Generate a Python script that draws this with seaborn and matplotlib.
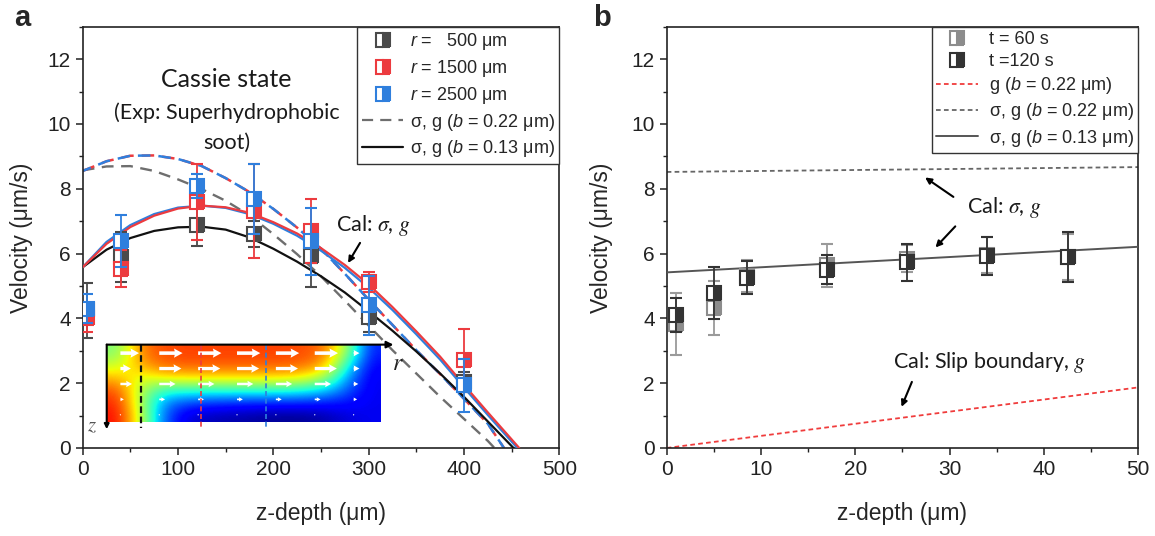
import numpy as np
import matplotlib
matplotlib.use("Agg")
import matplotlib.pyplot as plt
from matplotlib.lines import Line2D
from matplotlib.ticker import MultipleLocator
import seaborn as sns

# ---------------- panel a: velocity profiles in the Cassie state ----------------
z_exp = [5, 40, 120, 180, 240, 300, 400]
v_r500 = [4.25, 5.89, 6.88, 6.60, 5.92, 4.04, 2.04]
e_r500 = [0.85, 0.77, 0.65, 0.40, 0.96, 0.45, 0.30]
v_r1500 = [4.00, 5.53, 7.58, 7.32, 6.70, 5.12, 2.71]
e_r1500 = [0.42, 0.57, 1.17, 1.46, 0.98, 0.30, 0.97]
v_r2500 = [4.30, 6.38, 8.09, 7.68, 6.38, 4.40, 1.94]
e_r2500 = [0.45, 0.80, 0.37, 1.08, 1.03, 0.92, 0.82]

z_cal = [0, 25, 50, 75, 100, 125, 150, 175, 200, 225, 250, 275, 300,
         325, 350, 375, 400, 425]
# sigma, g with b = 0.13 um
cal_r500 = [5.58, 6.12, 6.48, 6.70, 6.81, 6.83, 6.74, 6.50, 6.15, 5.75, 5.30,
            4.80, 4.22, 3.62, 2.98, 2.30, 1.58, 0.82]
cal_r1500 = [5.58, 6.30, 6.82, 7.17, 7.39, 7.48, 7.43, 7.26, 6.97, 6.62, 6.17,
             5.65, 5.05, 4.35, 3.60, 2.82, 1.95, 1.10]
cal_r2500 = [5.58, 6.36, 6.88, 7.22, 7.42, 7.48, 7.41, 7.22, 6.92, 6.55, 6.09,
             5.56, 4.95, 4.26, 3.51, 2.73, 1.87, 1.02]
end_z013 = [452, 458, 456]
# sigma, g with b = 0.22 um
cal22_r500 = [8.57, 8.69, 8.70, 8.55, 8.29, 7.99, 7.63, 7.18, 6.60, 5.98, 5.30,
              4.55, 3.78, 3.02, 2.30, 1.58, 0.90, 0.22]
cal22_r1500 = [8.55, 8.85, 9.02, 9.03, 8.92, 8.70, 8.33, 7.90, 7.38, 6.80, 6.15,
               5.38, 4.58, 3.80, 3.02, 2.28, 1.52, 0.75]
end_z022 = [432, 442]

# inset: normalised flow speed map (rows top->bottom) and arrow magnitudes
field_speed = np.array([
    [0.50, 0.78, 0.83, 0.84, 0.84, 0.84, 0.84, 0.84, 0.83, 0.80, 0.55, 0.15],
    [0.58, 0.74, 0.81, 0.82, 0.82, 0.82, 0.82, 0.82, 0.81, 0.75, 0.42, 0.12],
    [0.70, 0.62, 0.68, 0.69, 0.69, 0.69, 0.69, 0.69, 0.67, 0.58, 0.30, 0.10],
    [0.82, 0.55, 0.42, 0.42, 0.42, 0.42, 0.42, 0.42, 0.40, 0.35, 0.22, 0.10],
    [0.87, 0.55, 0.26, 0.20, 0.18, 0.17, 0.16, 0.16, 0.16, 0.15, 0.14, 0.10],
    [0.90, 0.58, 0.22, 0.08, 0.05, 0.04, 0.03, 0.02, 0.02, 0.04, 0.08, 0.10],
])
arrow_speed = np.array([
    [0.80, 1.00, 1.00, 1.00, 1.00, 1.00, 0.25],
    [0.45, 0.95, 0.95, 0.95, 0.95, 0.95, 0.25],
    [0.50, 0.70, 0.70, 0.70, 0.70, 0.70, 0.20],
    [0.15, 0.25, 0.25, 0.25, 0.25, 0.25, 0.15],
    [0.05, 0.05, 0.05, 0.05, 0.05, 0.05, 0.05],
])
probe_r = [60.8, 124.4, 192.6]   # z-depth axis positions of the r-probe lines

# ---------------- panel b: near-wall velocity over time ----------------
z_b = [1, 5, 8.5, 17, 25.5, 34, 42.5]
v_t60 = [3.82, 4.32, 5.30, 5.64, 5.84, 5.95, 5.90]
e_t60 = [0.95, 0.82, 0.50, 0.66, 0.42, 0.55, 0.70]
v_t120 = [4.10, 4.78, 5.25, 5.50, 5.73, 5.93, 5.89]
e_t120 = [0.52, 0.80, 0.51, 0.45, 0.58, 0.58, 0.77]
z_line = [0, 50]
slip_g = [0.0, 1.87]
sig_g_022 = [8.52, 8.67]
sig_g_013 = [5.42, 6.21]

# ---------------- style ----------------
sns.set_theme(style="ticks")
plt.rcParams.update({
    "font.family": ["Liberation Sans", "DejaVu Sans"],
    "mathtext.fontset": "custom",
    "mathtext.rm": "Liberation Sans",
    "mathtext.it": "Liberation Sans:italic",
    "mathtext.bf": "Liberation Sans:bold",
    "axes.linewidth": 1.2,
    "axes.edgecolor": "#222222",
    "xtick.direction": "out",
    "ytick.direction": "out",
    "xtick.major.size": 5, "ytick.major.size": 5,
    "xtick.minor.size": 3, "ytick.minor.size": 3,
    "xtick.major.width": 1.1, "ytick.major.width": 1.1,
    "xtick.minor.width": 1.0, "ytick.minor.width": 1.0,
    "xtick.color": "#222222", "ytick.color": "#222222",
    "xtick.labelsize": 15, "ytick.labelsize": 15,
})

C_DARK = "#4a4a4a"
C_RED = "#ec3b3f"
C_BLUE = "#2f7fdd"
C_GRAY = "#6e6e6e"
NOTE_FONT = ["Lato", "DejaVu Sans"]

fig = plt.figure(figsize=(11.55, 5.36), dpi=100)
ax_a = fig.add_axes([0.0716, 0.1642, 0.4126, 0.7858])
ax_b = fig.add_axes([0.5772, 0.1642, 0.4083, 0.7858])


def curve(ax, x, y, color, ls="-", lw=1.6, z=3):
    sns.lineplot(x=x, y=y, ax=ax, color=color, linestyle=ls, linewidth=lw,
                 estimator=None, sort=False, zorder=z)


def points(ax, x, y, err, color, ecolor, z):
    ax.errorbar(x, y, yerr=err, fmt="s", ms=9.5, mew=1.5, color=color,
                mec=color, mfc=color, mfcalt="white", fillstyle="right",
                ecolor=ecolor, elinewidth=1.3, capsize=4.5, capthick=1.3,
                zorder=z)


# ---- panel a curves ----
dash_long = (0, (5, 3.2))
curve(ax_a, z_cal + [end_z022[0]], cal22_r500 + [0], C_GRAY, dash_long, 1.7, 2)
curve(ax_a, z_cal + [end_z022[1]], cal22_r1500 + [0], C_RED, dash_long, 1.8, 2)
curve(ax_a, z_cal + [end_z022[1]], cal22_r1500 + [0], C_BLUE, (1.5, (5, 3.2)), 1.8, 2)
curve(ax_a, z_cal + [end_z013[0]], cal_r500 + [0], "#111111", "-", 1.6, 3)
curve(ax_a, z_cal + [end_z013[2]], cal_r2500 + [0], C_BLUE, "-", 1.6, 3)
curve(ax_a, z_cal + [end_z013[1]], cal_r1500 + [0], C_RED, "-", 1.6, 3)

points(ax_a, z_exp, v_r500, e_r500, C_DARK, C_DARK, 5)
points(ax_a, z_exp, v_r1500, e_r1500, C_RED, C_RED, 6)
points(ax_a, z_exp, v_r2500, e_r2500, C_BLUE, C_BLUE, 7)

# ---- panel a inset: flow field in the channel ----
x0, x1, y0, y1 = 25.2, 312.4, 0.81, 3.19
ins = ax_a.inset_axes([x0, y0, x1 - x0, y1 - y0], transform=ax_a.transData,
                      zorder=4)
ins.imshow(field_speed, cmap="jet", vmin=0, vmax=1, aspect="auto",
           interpolation="bicubic", extent=[0, 1, 0, 1], origin="upper")
n_rows, n_cols = arrow_speed.shape
ax_pos = 0.05 + 0.142 * np.arange(n_cols)
ay_pos = 0.89 - 0.20 * np.arange(n_rows)
shaft = [0.013, 0.012, 0.009, 0.006, 0.005]
for j in range(n_rows):
    ins.quiver(ax_pos, np.full(n_cols, ay_pos[j]), arrow_speed[j] * 0.085,
               np.zeros(n_cols), color="white", angles="xy",
               scale_units="xy", scale=1, width=shaft[j], headwidth=2.6,
               headlength=2.4, headaxislength=2.2, pivot="tail", zorder=3)
ins.set_xlim(0, 1)
ins.set_ylim(0, 1)
ins.set_axis_off()

for xr, cr in zip(probe_r, ["#111111", C_RED, C_BLUE]):
    ax_a.plot([xr, xr], [y1, 0.61], color=cr, lw=1.6 if cr == "#111111" else 1.2,
              ls=(0, (3, 1.6)), zorder=6)
ax_a.annotate("", xy=(326, y1), xytext=(x0, y1), zorder=6,
              arrowprops=dict(arrowstyle="-|>", color="black", lw=1.5,
                              shrinkA=0, shrinkB=0, mutation_scale=10))
ax_a.annotate("", xy=(x0, 0.58), xytext=(x0, y1), zorder=6,
              arrowprops=dict(arrowstyle="-|>", color="black", lw=1.5,
                              shrinkA=0, shrinkB=0, mutation_scale=7))
ax_a.text(324, 2.58, "$r$", fontsize=17, ha="left", va="center",
          math_fontfamily="stix", color="#222222")
ax_a.text(9.5, 0.68, "$z$", fontsize=15, ha="center", va="center",
          math_fontfamily="stix", color="#555555")

# ---- panel a notes ----
ax_a.text(151, 11.36, "Cassie state", fontsize=18, ha="center", va="center",
          family=NOTE_FONT, color="#1a1a1a")
ax_a.text(151, 10.34, "(Exp: Superhydrophobic", fontsize=15.5, ha="center",
          va="center", family=NOTE_FONT, color="#1a1a1a")
ax_a.text(151, 9.41, "soot)", fontsize=15.5, ha="center", va="center",
          family=NOTE_FONT, color="#1a1a1a")
ax_a.text(266, 6.88, r"Cal: $\sigma$, $g$", fontsize=15.5, ha="left",
          va="center", family=NOTE_FONT, math_fontfamily="stix",
          color="#1a1a1a")
ax_a.annotate("", xy=(278.4, 5.71), xytext=(291, 6.33),
              arrowprops=dict(arrowstyle="-|>", color="black", lw=1.5,
                              shrinkA=0, shrinkB=0, mutation_scale=9))

# ---- panel a axes ----
ax_a.set_xlim(0, 500)
ax_a.set_ylim(0, 13)
ax_a.xaxis.set_major_locator(MultipleLocator(100))
ax_a.xaxis.set_minor_locator(MultipleLocator(50))
ax_a.yaxis.set_major_locator(MultipleLocator(2))
ax_a.yaxis.set_minor_locator(MultipleLocator(1))
ax_a.set_xlabel("z-depth (μm)", fontsize=16.5)
ax_a.set_ylabel("Velocity (μm/s)", fontsize=16.5)
ax_a.yaxis.set_label_coords(-0.104, 0.5)
ax_a.xaxis.set_label_coords(0.5, -0.128)


def sq(color):
    return Line2D([], [], marker="s", ls="none", ms=9.5, mew=1.5, mec=color,
                  mfc=color, mfcalt="white", fillstyle="right")


leg_a = ax_a.legend(
    [sq(C_DARK), sq(C_RED), sq(C_BLUE),
     Line2D([], [], color=C_GRAY, lw=1.6, ls=(0, (5, 3.2))),
     Line2D([], [], color="#111111", lw=1.6)],
    [r"$r$ =   500 μm", r"$r$ = 1500 μm", r"$r$ = 2500 μm",
     r"σ, g ($b$ = 0.22 μm)", r"σ, g ($b$ = 0.13 μm)"],
    loc="upper right", bbox_to_anchor=(1.0, 1.0), borderaxespad=0.0,
    fontsize=13, frameon=True, fancybox=False, framealpha=1,
    edgecolor="#333333", handlelength=2.3, handletextpad=0.35,
    labelspacing=0.32, borderpad=0.25)
leg_a.get_frame().set_linewidth(1.0)
leg_a.set_zorder(10)

# ---- panel b ----
curve(ax_b, z_line, sig_g_022, "#666666", (0, (2.6, 1.8)), 1.3, 2)
curve(ax_b, z_line, slip_g, "#f03c3c", (0, (2.6, 1.8)), 1.3, 2)
curve(ax_b, z_line, sig_g_013, "#555555", "-", 1.4, 3)
points(ax_b, z_b, v_t60, e_t60, "#8c8c8c", "#9a9a9a", 5)
points(ax_b, z_b, v_t120, e_t120, "#333333", "#333333", 6)

ax_b.text(31.8, 7.42, r"Cal: $\sigma$, $g$", fontsize=15.5, ha="left",
          va="center", family=NOTE_FONT, math_fontfamily="stix",
          color="#1a1a1a")
ax_b.annotate("", xy=(27.4, 8.35), xytext=(30.4, 7.75),
              arrowprops=dict(arrowstyle="-|>", color="black", lw=1.5,
                              shrinkA=0, shrinkB=0, mutation_scale=9))
ax_b.annotate("", xy=(28.5, 6.19), xytext=(30.6, 6.84),
              arrowprops=dict(arrowstyle="-|>", color="black", lw=1.5,
                              shrinkA=0, shrinkB=0, mutation_scale=9))
ax_b.text(24.0, 2.65, r"Cal: Slip boundary, $g$", fontsize=15.5, ha="left",
          va="center", family=NOTE_FONT, math_fontfamily="stix",
          color="#1a1a1a")
ax_b.annotate("", xy=(24.9, 1.27), xytext=(26.0, 2.04),
              arrowprops=dict(arrowstyle="-|>", color="black", lw=1.5,
                              shrinkA=0, shrinkB=0, mutation_scale=9))

ax_b.set_xlim(0, 50)
ax_b.set_ylim(0, 13)
ax_b.xaxis.set_major_locator(MultipleLocator(10))
ax_b.xaxis.set_minor_locator(MultipleLocator(5))
ax_b.yaxis.set_major_locator(MultipleLocator(2))
ax_b.yaxis.set_minor_locator(MultipleLocator(1))
ax_b.set_xlabel("z-depth (μm)", fontsize=16.5)
ax_b.set_ylabel("Velocity (μm/s)", fontsize=16.5)
ax_b.yaxis.set_label_coords(-0.114, 0.5)
ax_b.xaxis.set_label_coords(0.5, -0.128)

leg_b = ax_b.legend(
    [sq("#8c8c8c"), sq("#333333"),
     Line2D([], [], color="#f03c3c", lw=1.3, ls=(0, (2.6, 1.8))),
     Line2D([], [], color="#666666", lw=1.3, ls=(0, (2.6, 1.8))),
     Line2D([], [], color="#555555", lw=1.4)],
    ["t = 60 s", "t =120 s", r"g ($b$ = 0.22 μm)",
     r"σ, g ($b$ = 0.22 μm)", r"σ, g ($b$ = 0.13 μm)"],
    loc="upper right", bbox_to_anchor=(1.0, 1.0), borderaxespad=0.0,
    fontsize=13, frameon=True, fancybox=False, framealpha=1,
    edgecolor="#333333", handlelength=2.3, handletextpad=0.6,
    labelspacing=0.28, borderpad=0.25)
leg_b.get_frame().set_linewidth(1.0)
leg_b.set_zorder(10)

for ax in (ax_a, ax_b):
    for s in ax.spines.values():
        s.set_visible(True)
        s.set_linewidth(1.2)
    ax.tick_params(which="both", top=False, right=False)

fig.text(0.019, 0.966, "a", fontsize=21, fontweight="bold", ha="center",
         va="center")
fig.text(0.521, 0.966, "b", fontsize=21, fontweight="bold", ha="center",
         va="center")

fig.savefig("out.png", dpi=100, facecolor="white")
